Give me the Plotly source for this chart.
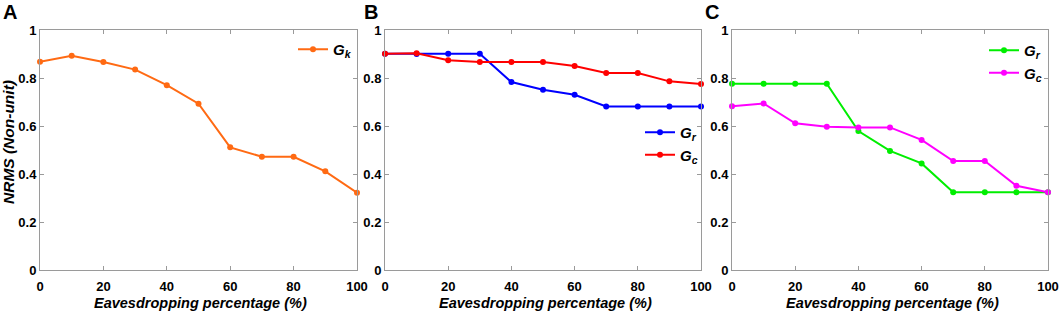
import plotly.graph_objects as go

x_pct = [0, 10, 20, 30, 40, 50, 60, 70, 80, 90, 100]

# Panel A
a_gk = [0.868, 0.893, 0.867, 0.835, 0.770, 0.693, 0.511, 0.472, 0.472, 0.411, 0.322]
# Panel B
b_gr = [0.901, 0.900, 0.901, 0.901, 0.783, 0.751, 0.730, 0.681, 0.681, 0.681, 0.681]
b_gc = [0.901, 0.903, 0.874, 0.867, 0.867, 0.867, 0.850, 0.821, 0.821, 0.786, 0.775]
# Panel C
c_gr = [0.776, 0.776, 0.776, 0.776, 0.579, 0.496, 0.444, 0.324, 0.324, 0.324, 0.324]
c_gc = [0.682, 0.694, 0.611, 0.597, 0.594, 0.594, 0.542, 0.454, 0.454, 0.351, 0.324]

x_ticks = [0, 20, 40, 60, 80, 100]
y_ticks = [0, 0.2, 0.4, 0.6, 0.8, 1]
y_ticklabels = ["0", "0.2", "0.4", "0.6", "0.8", "1"]
panel_letters = ["A", "B", "C"]
x_title = "Eavesdropping percentage (%)"
y_title = "NRMS (Non-unit)"

W, H = 1059, 312
FONT = "Liberation Sans, Arial, sans-serif"

fig = go.Figure()

def lbl(sub):
    return "<b><i>G</i></b><sub><b><i>%s</i></b></sub>" % sub

series = [
    (1, a_gk, "#FF6A13", lbl("k"), "legend"),
    (2, b_gr, "#0000FF", lbl("r"), "legend2"),
    (2, b_gc, "#FF0000", lbl("c"), "legend2"),
    (3, c_gr, "#00EE00", lbl("r"), "legend3"),
    (3, c_gc, "#FF00FF", lbl("c"), "legend3"),
]
for idx, ys, col, name, leg in series:
    sfx = "" if idx == 1 else str(idx)
    fig.add_trace(go.Scatter(
        x=x_pct, y=ys, mode="lines+markers", name=name,
        line=dict(color=col, width=2), marker=dict(color=col, size=6),
        xaxis="x" + sfx, yaxis="y" + sfx, legend=leg, showlegend=True,
        cliponaxis=False,
    ))

px_domains = [(40, 357), (385, 701), (732, 1048)]
ytop, ybot = 30, 270
ydom = [1 - ybot / H, 1 - ytop / H]

axis_common = dict(
    showline=True, mirror="ticks", linecolor="#9a9a9a", linewidth=1,
    ticks="inside", ticklen=4, tickcolor="#9a9a9a",
    showgrid=False, zeroline=False, automargin=False,
    tickfont=dict(family=FONT, size=13, color="black", weight="bold"),
)

layout = dict(
    width=W, height=H, margin=dict(l=0, r=0, t=0, b=0, autoexpand=False),
    plot_bgcolor="white", paper_bgcolor="white",
    showlegend=True,
)
for i, (l, r) in enumerate(px_domains):
    sfx = "" if i == 0 else str(i + 1)
    layout["xaxis" + sfx] = dict(
        axis_common, domain=[l / W, r / W], range=[0, 100],
        tickvals=x_ticks, ticktext=[str(v) for v in x_ticks],
        anchor="y" + sfx, ticklabelstandoff=4,
    )
    layout["yaxis" + sfx] = dict(
        axis_common, domain=ydom, range=[0, 1],
        tickvals=y_ticks, ticktext=y_ticklabels,
        anchor="x" + sfx,
    )

leg_common = dict(bgcolor="rgba(0,0,0,0)", borderwidth=0,
                  font=dict(family=FONT, size=15, color="black"),
                  itemwidth=30, tracegroupgap=2, xanchor="left", yanchor="top")
layout["legend"] = dict(leg_common, x=293 / W, y=1 - 33 / H)
layout["legend2"] = dict(leg_common, x=640 / W, y=1 - 116 / H)
layout["legend3"] = dict(leg_common, x=984 / W, y=1 - 34 / H)

fig.update_layout(**layout)

# x-axis titles
for (l, r) in px_domains:
    fig.add_annotation(text="<b><i>%s</i></b>" % x_title, x=((l + r) / 2 + 2) / W, y=1 - 302.5 / H,
                       xref="paper", yref="paper", xanchor="center", yanchor="middle",
                       showarrow=False, font=dict(family=FONT, size=14.5, color="black"))
# y-axis title
fig.add_annotation(text="<b><i>%s</i></b>" % y_title, x=9 / W, y=1 - 142 / H,
                   xref="paper", yref="paper", xanchor="center", yanchor="middle",
                   textangle=-90, showarrow=False,
                   font=dict(family=FONT, size=15.5, color="black"))

letter_x = [1, 362, 703]
for lt, lx in zip(panel_letters, letter_x):
    fig.add_annotation(text="<b>%s</b>" % lt, x=lx / W, y=1 + 1 / H, xref="paper", yref="paper",
                       xanchor="left", yanchor="top", showarrow=False,
                       font=dict(family=FONT, size=20, color="black"))

fig.write_html("out.html", config={"displayModeBar": False},
               post_script="document.body.style.margin='0';document.body.style.overflow='hidden';")
